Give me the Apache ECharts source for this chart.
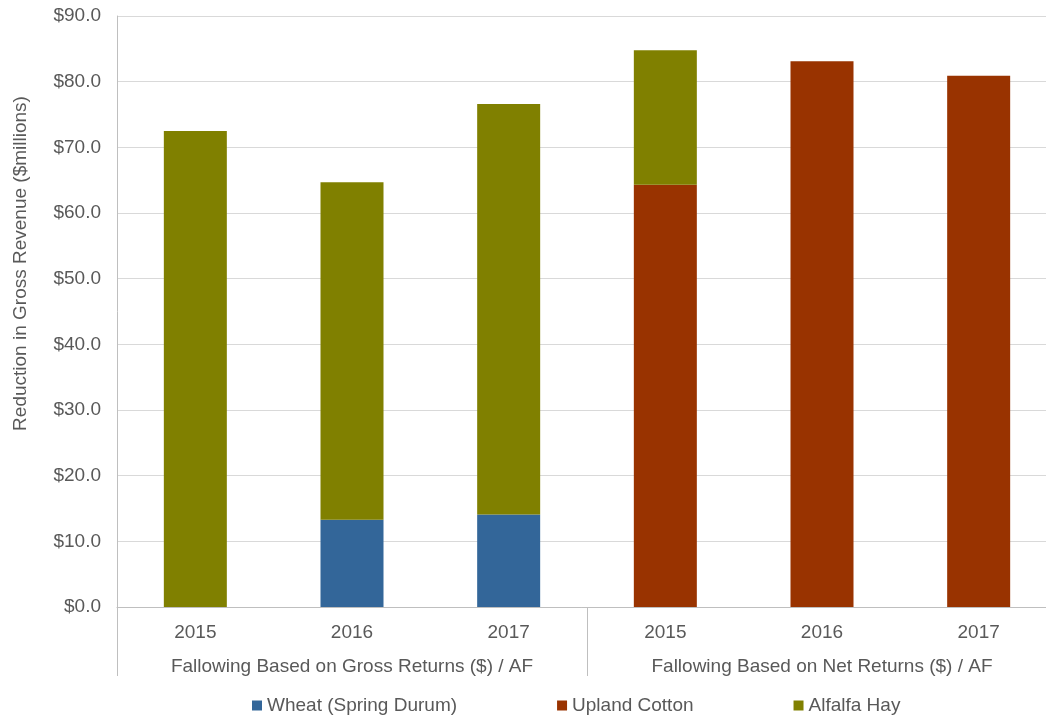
<!DOCTYPE html>
<html>
<head>
<meta charset="utf-8">
<script src="https://cdn.jsdelivr.net/npm/echarts@6/dist/echarts.min.js"></script>
<style>
html, body { margin: 0; padding: 0; background: #fff; }
#main { width: 1046px; height: 719px; }
</style>
</head>
<body>
<div id="main"></div>
<script>
var years = ['2015', '2016', '2017', '2015', '2016', '2017'];
var groups = ['Fallowing Based on Gross Returns ($) / AF', 'Fallowing Based on Net Returns ($) / AF'];
var wheat = [0, 13.3, 14.1, 0, 0, 0];
var cotton = [0, 0, 0, 64.3, 83.1, 80.9];
var alfalfa = [72.5, 51.4, 62.5, 20.5, 0, 0];

var myChart = echarts.init(document.getElementById('main'));
var txt = '#595959';
var font = 'Liberation Sans, Arial, sans-serif';

var option = {
    textStyle: { fontFamily: font },
    legend: {
        data: ['Wheat (Spring Durum)', 'Upland Cotton', 'Alfalfa Hay'],
        left: 247,
        top: 691,
        itemWidth: 10,
        itemHeight: 10,
        itemGap: 100,
        icon: 'rect',
        textStyle: { color: txt, fontSize: 19, fontFamily: font }
    },
    grid: { left: 117, width: 940, top: 16, bottom: 112, containLabel: false, outerBoundsMode: 'none' },
    xAxis: [
        {
            type: 'category',
            data: years,
            axisLine: { lineStyle: { color: '#bfbfbf', width: 1 } },
            axisTick: { show: false },
            axisLabel: { color: txt, fontSize: 19, margin: 16, interval: 0, fontFamily: font }
        },
        {
            type: 'category',
            data: groups,
            position: 'bottom',
            axisLine: { show: false },
            axisTick: { show: true, length: 69, interval: 0, lineStyle: { color: '#bfbfbf' } },
            axisLabel: { color: txt, fontSize: 19, margin: 50, interval: 0, fontFamily: font },
            splitLine: { show: false }
        }
    ],
    yAxis: {
        type: 'value',
        min: 0,
        max: 90,
        interval: 10,
        name: 'Reduction in Gross Revenue ($millions)',
        nameLocation: 'middle',
        nameGap: 87,
        nameTextStyle: { color: txt, fontSize: 19, fontFamily: font, padding: [0, 0, 0, 96] },
        axisLine: { show: true, lineStyle: { color: '#bfbfbf' } },
        axisTick: { show: false },
        axisLabel: {
            color: txt, fontSize: 19, margin: 16, fontFamily: font,
            formatter: function (v) { return '$' + v.toFixed(1); }
        },
        splitLine: { lineStyle: { color: '#d9d9d9' } }
    },
    series: [
        {
            name: 'Wheat (Spring Durum)',
            type: 'bar',
            stack: 'total',
            barWidth: 63,
            itemStyle: { color: '#336699' },
            data: wheat
        },
        {
            name: 'Upland Cotton',
            type: 'bar',
            stack: 'total',
            barWidth: 63,
            itemStyle: { color: '#993300' },
            data: cotton
        },
        {
            name: 'Alfalfa Hay',
            type: 'bar',
            stack: 'total',
            barWidth: 63,
            itemStyle: { color: '#808000' },
            data: alfalfa
        }
    ]
};
myChart.setOption(option);

window.onresize = function () {
    myChart.resize();
};
</script>
</body>
</html>
